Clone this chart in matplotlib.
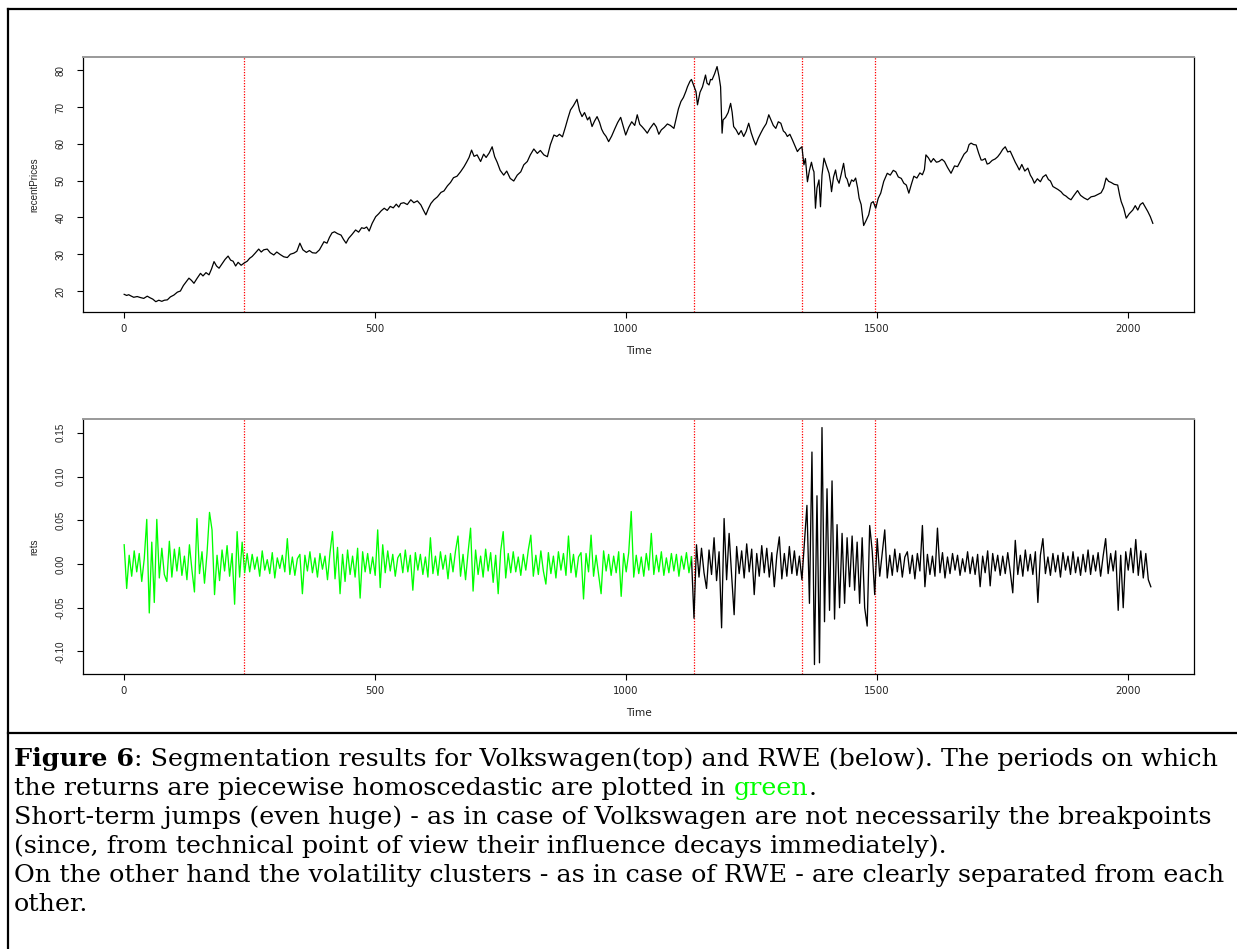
import numpy as np
import matplotlib.pyplot as plt
from matplotlib.lines import Line2D
from matplotlib.text import Annotation
from matplotlib.ticker import FormatStrFormatter

W, H = 1237, 949

# change points of the segmentation
breaks = [240, 1136, 1351, 1497]

# daily closing prices (time index, price)
price_t = [1, 6, 10, 14, 20, 27, 34, 40, 47, 52,
           58, 64, 70, 76, 81, 87, 93, 100, 107, 113,
           119, 125, 130, 135, 140, 146, 153, 158, 164, 170,
           175, 180, 185, 190, 196, 202, 208, 213, 218, 223,
           228, 234, 240, 246, 251, 256, 262, 269, 274, 279,
           286, 292, 299, 305, 312, 319, 326, 332, 339, 345,
           351, 357, 364, 370, 376, 383, 390, 399, 405, 410,
           415, 420, 426, 433, 438, 443, 448, 455, 462, 468,
           474, 479, 484, 489, 495, 502, 508, 513, 519, 525,
           531, 537, 543, 548, 552, 558, 565, 572, 578, 585,
           592, 597, 602, 607, 612, 618, 625, 632, 638, 645,
           651, 657, 664, 671, 678, 683, 688, 693, 698, 704,
           711, 717, 722, 728, 734, 739, 744, 750, 757, 763,
           770, 777, 784, 791, 797, 804, 810, 817, 824, 830,
           837, 844, 850, 857, 863, 868, 874, 880, 885, 890,
           896, 903, 908, 913, 918, 924, 928, 933, 938, 943,
           948, 952, 956, 961, 966, 972, 978, 984, 990, 995,
           1000, 1006, 1012, 1018, 1023, 1028, 1033, 1038, 1043, 1048,
           1056, 1061, 1066, 1071, 1077, 1083, 1089, 1096, 1100, 1105,
           1110, 1115, 1120, 1123, 1128, 1131, 1136, 1140, 1143, 1148,
           1153, 1159, 1162, 1166, 1169, 1172, 1177, 1182, 1186, 1189,
           1192, 1194, 1199, 1204, 1209, 1212, 1215, 1220, 1225, 1230,
           1235, 1240, 1245, 1250, 1255, 1259, 1264, 1269, 1274, 1280,
           1285, 1290, 1294, 1299, 1304, 1309, 1314, 1318, 1322, 1327,
           1332, 1337, 1342, 1346, 1351, 1355, 1358, 1362, 1366, 1370,
           1373, 1375, 1378, 1381, 1385, 1388, 1391, 1395, 1400, 1405,
           1408, 1410, 1414, 1418, 1421, 1425, 1429, 1434, 1438, 1441,
           1445, 1450, 1454, 1458, 1462, 1465, 1469, 1474, 1479, 1484,
           1489, 1493, 1498, 1503, 1508, 1514, 1521, 1527, 1533, 1538,
           1543, 1549, 1554, 1559, 1564, 1569, 1574, 1580, 1586, 1591,
           1595, 1598, 1603, 1608, 1613, 1619, 1624, 1630, 1635, 1641,
           1648, 1655, 1661, 1668, 1674, 1680, 1684, 1688, 1693, 1698,
           1703, 1708, 1711, 1716, 1720, 1724, 1730, 1736, 1741, 1746,
           1751, 1756, 1761, 1766, 1771, 1776, 1780, 1784, 1789, 1795,
           1801, 1806, 1810, 1814, 1820, 1826, 1831, 1837, 1842, 1846,
           1851, 1856, 1861, 1867, 1872, 1877, 1882, 1887, 1893, 1900,
           1906, 1913, 1920, 1927, 1934, 1940, 1947, 1952, 1957, 1962,
           1967, 1973, 1980, 1984, 1987, 1992, 1997, 2003, 2010, 2015,
           2020, 2025, 2030, 2035, 2040, 2045, 2050]
price = [19.1, 18.8, 19.0, 18.7, 18.3, 18.5, 18.2, 18.0, 18.6, 18.2,
         17.8, 17.1, 17.5, 17.2, 17.5, 17.6, 18.4, 18.9, 19.7, 20.0,
         21.5, 22.6, 23.5, 22.9, 22.1, 23.4, 24.8, 24.1, 25.0, 24.4,
         26.0, 28.0, 26.8, 26.2, 27.4, 28.6, 29.5, 28.4, 28.1, 26.8,
         27.8, 27.0, 27.6, 28.1, 28.9, 29.4, 30.3, 31.4, 30.6, 31.2,
         31.4, 30.4, 29.8, 30.6, 29.9, 29.3, 29.1, 30.0, 30.3, 30.8,
         33.0, 31.2, 30.5, 31.0, 30.4, 30.3, 31.2, 33.4, 33.0, 34.6,
         35.8, 36.1, 35.6, 35.2, 34.0, 33.0, 34.3, 35.4, 36.6, 36.0,
         37.2, 37.0, 37.4, 36.3, 38.4, 40.2, 41.0, 41.8, 42.5, 41.9,
         43.0, 42.6, 43.6, 42.8, 43.8, 44.0, 43.5, 44.8, 44.0, 44.5,
         43.4, 42.0, 40.7, 42.4, 43.8, 44.8, 45.6, 46.8, 47.2, 48.6,
         49.5, 50.8, 51.2, 52.4, 53.8, 55.0, 56.3, 58.3, 56.6, 57.0,
         55.2, 57.2, 56.3, 57.5, 59.2, 56.5, 55.0, 52.8, 51.5, 52.6,
         50.6, 49.9, 51.5, 52.4, 54.3, 55.2, 57.0, 58.6, 57.4, 58.2,
         57.0, 56.5, 59.8, 62.4, 62.0, 62.6, 61.9, 64.6, 67.0, 69.2,
         70.4, 72.1, 69.0, 67.4, 68.5, 66.5, 67.3, 64.7, 66.2, 67.4,
         65.8, 64.0, 62.9, 62.0, 60.6, 62.1, 64.0, 65.8, 67.2, 64.8,
         62.4, 64.5, 66.0, 65.0, 67.9, 65.3, 64.6, 63.8, 62.9, 64.1,
         65.6, 64.6, 62.6, 63.8, 64.5, 65.4, 65.0, 64.2, 66.5, 69.5,
         71.5, 72.6, 74.3, 75.5, 77.0, 77.5, 75.7, 74.2, 70.6, 74.0,
         75.5, 78.7, 76.5, 76.0, 77.5, 77.4, 79.0, 81.0, 78.2, 75.5,
         62.9, 66.5, 67.2, 68.5, 71.0, 68.6, 64.7, 63.8, 62.5, 63.6,
         62.0, 63.4, 65.6, 63.0, 61.0, 59.7, 61.5, 62.9, 64.2, 65.5,
         67.9, 66.3, 65.0, 64.2, 66.0, 65.6, 63.5, 63.0, 62.0, 62.6,
         61.1, 59.5, 57.9, 58.6, 59.2, 54.3, 56.0, 49.7, 52.8, 55.0,
         53.1, 52.4, 42.5, 48.0, 50.2, 42.9, 51.5, 56.1, 54.0, 52.0,
         49.5, 47.0, 51.0, 52.9, 50.5, 49.3, 51.6, 54.7, 51.0, 50.4,
         48.4, 50.2, 49.8, 50.7, 48.0, 45.2, 43.5, 37.8, 39.2, 40.7,
         43.9, 44.3, 42.5, 45.2, 46.6, 49.8, 52.0, 51.5, 52.8, 52.4,
         51.0, 50.6, 49.3, 48.8, 46.6, 49.0, 51.2, 50.7, 52.1, 51.6,
         53.0, 57.0, 56.2, 55.0, 56.0, 55.0, 55.2, 55.8, 55.2, 53.6,
         52.0, 54.0, 53.8, 55.6, 57.2, 58.0, 59.8, 60.2, 59.8, 59.7,
         57.5, 55.6, 55.6, 56.0, 54.5, 54.7, 55.5, 55.9, 56.5, 57.4,
         58.5, 59.2, 57.8, 58.0, 56.5, 55.0, 54.0, 52.9, 54.4, 52.6,
         53.4, 51.5, 50.6, 49.3, 50.5, 49.7, 51.0, 51.6, 50.3, 49.9,
         48.4, 48.0, 47.6, 47.0, 46.2, 45.8, 45.2, 44.8, 46.0, 47.3,
         46.0, 45.3, 44.8, 45.6, 45.8, 46.2, 46.7, 48.0, 50.7, 49.8,
         49.5, 49.0, 48.8, 46.0, 44.3, 42.5, 39.8, 41.0, 42.0, 43.2,
         42.0, 43.5, 44.0, 42.8, 41.6, 40.2, 38.4]

# log returns in percent, every 5th day
rets_pct = [
    2.2, -2.8, 1.0, -1.4, 1.5, -0.9, 1.2, -2.0, 0.6, 5.1,
    -5.6, 2.5, -4.4, 5.1, -1.6, 1.8, -1.2, -2.0, 2.6, -1.5,
    1.7, -0.8, 1.9, -1.3, 0.9, -1.8, 2.2, -0.7, -3.2, 5.2,
    -1.1, 1.4, -2.2, 1.2, 5.9, 3.9, -3.5, 1.0, -1.9, 1.6,
    -0.8, 2.1, -1.4, 1.2, -4.6, 3.7, -1.5, 2.5, -1.0, 1.2,
    -0.9, 1.1, -0.6, 0.8, -1.4, 1.5, -0.7, 0.5, -1.1, 1.3,
    -1.6, 0.7, -0.5, 1.0, -0.9, 2.9, -1.2, 0.8, -1.3, 0.6,
    1.1, -3.4, 1.0, -0.8, 1.4, -1.0, 0.7, -1.5, 1.2, -0.6,
    0.9, -1.8, 1.3, 3.7, -1.7, 1.9, -3.4, 1.1, -2.0, 1.6,
    -1.2, 0.9, -1.5, 1.8, -3.9, 1.4, -0.9, 1.2, -1.1, 0.8,
    -1.3, 3.9, -2.7, 2.2, -1.0, 1.5, -0.8, 1.1, -1.4, 0.7,
    1.2, -1.0, 1.6, -0.9, 1.0, -3.0, 1.3, -0.7, 1.1, -1.2,
    0.8, -1.5, 3.0, -1.1, 0.9, -1.3, 1.4, -0.6, 1.0, -1.7,
    1.2, -0.9, 1.5, 3.2, -1.4, 1.1, -1.8, 1.3, 4.1, -3.1,
    1.6, -1.2, 0.9, -1.5, 1.7, -0.8, 1.3, -2.1, 1.0, -3.4,
    1.5, 3.7, -1.6, 1.2, -1.0, 1.4, -0.9, 0.8, -1.3, 1.1,
    -0.7, 1.6, 3.3, -1.4, 1.0, -1.2, 1.5, -0.8, -2.3, 1.3,
    -1.1, 0.9, -1.6, 1.4, -0.7, 1.2, -1.3, 3.2, -1.0, 1.1,
    -1.5, 0.8, 1.3, -4.0, 1.2, -0.9, 3.3, -1.4, 1.0, -1.2,
    -3.4, 1.5, -0.8, 1.1, -1.3, 0.9, -1.0, 1.4, -3.7, 1.2,
    -0.9, 1.3, 6.0, -1.5, 1.0, -1.1, 0.8, -1.4, 1.2, -0.7,
    3.5, -1.2, 1.0, -0.9, 1.4, -1.3, 0.7, -1.0, 1.2, -0.8,
    1.1, -1.4, 0.9, -0.6, 1.3, -1.0, 0.8, -6.2, 2.2, -1.5,
    1.8, -1.0, -2.8, 1.6, -1.2, 3.0, -1.9, 1.4, -7.3, 5.2,
    -1.8, 3.5, -1.3, -5.8, 2.0, -1.1, 1.5, -1.6, 2.3, -0.9,
    1.7, -3.5, 1.2, -1.4, 2.1, -1.0, 1.8, -1.5, 1.3, -2.6,
    1.0, 3.1, -1.7, 1.2, -1.4, 2.0, -1.1, 1.5, -1.3, 0.9,
    -1.8, 2.5, 6.7, -4.5, 12.8, -11.5, 7.8, -11.3, 15.6, -6.6,
    8.6, -5.3, 9.5, -6.3, 4.5, -5.0, 3.5, -4.5, 3.0, -2.6,
    3.2, -3.0, 2.5, -4.5, 3.0, -5.0, -7.1, 4.4, 1.5, -3.5,
    2.9, -1.4, 1.3, 3.9, -1.6, 1.0, -1.3, 1.7, -0.9, 1.2,
    -1.5, 0.8, 1.4, -1.1, 1.0, -1.7, 1.2, -0.8, 4.4, -2.6,
    1.1, -1.2, 0.9, -1.4, 4.1, -1.0, 1.3, -1.6, 0.8, -1.1,
    1.2, -0.7, 1.0, -1.3, 0.6, -0.9, 1.4, -1.1, 0.8, -1.2,
    1.1, -2.6, 0.9, -1.0, 1.5, -2.5, 1.2, -0.8, 1.0, -1.3,
    0.9, -1.1, 1.3, -0.9, -3.3, 2.7, -1.2, 1.0, -1.4, 1.6,
    -0.8, 1.1, -1.2, 1.4, -4.4, 1.0, 2.9, -1.1, 0.8, -1.3,
    1.2, -0.9, 1.0, -1.5, 1.3, -0.7, 0.9, -1.2, 1.4, -1.0,
    0.8, -1.3, 1.1, -0.9, 1.6, -1.2, 1.0, -0.8, 1.3, -1.4,
    0.9, 2.9, -1.1, 1.2, -0.8, 1.5, -5.3, 1.0, -5.0, 1.4,
    -0.7, 1.8, -1.0, 2.8, -1.3, 1.5, -1.6, 1.2, -1.8, -2.6,
]
rets_t = np.arange(len(rets_pct)) * 5 + 1
rets = np.array(rets_pct) / 100

# horizontal text is set wide, rotated text narrow
wide = ['DejaVu Sans']
narrow = ['Liberation Sans', 'DejaVu Sans']
ink = '#222222'

fig = plt.figure(figsize=(W / 100, H / 100), dpi=100)


def r_axes(top, bottom):
    ax = fig.add_axes([83 / W, 1 - bottom / H, 1111 / W, (bottom - top) / H])
    ax.set_xlim(-81, 2132)
    for side in ['left', 'bottom', 'right']:
        ax.spines[side].set_linewidth(0.9)
        ax.spines[side].set_color('black')
    ax.spines['top'].set_color('#999999')
    ax.spines['top'].set_linewidth(1.4)
    ax.set_xticks([0, 500, 1000, 1500, 2000])
    ax.tick_params(direction='out', length=4.5, width=0.8, labelcolor=ink)
    ax.tick_params(axis='x', pad=4)
    ax.tick_params(axis='y', pad=8)
    ax.set_xlabel('Time', fontsize=7.6, family=wide, color=ink, labelpad=9)
    for b in breaks:
        ax.axvline(b, color='red', lw=0.9, ls=(0, (1, 1.2)))
    return ax


def r_labels(ax):
    for lab in ax.get_xticklabels():
        lab.set_fontfamily(wide)
        lab.set_fontsize(7.3)
    for lab in ax.get_yticklabels():
        lab.set_fontfamily(narrow)
        lab.set_fontsize(7.1)
        lab.set_rotation(90)
        lab.set_va('center')


# price panel
ax1 = r_axes(57, 312)
ax1.plot(price_t, price, color='black', lw=0.9)
ax1.set_ylim(14.3, 83.6)
ax1.set_yticks([20, 30, 40, 50, 60, 70, 80])
r_labels(ax1)
ax1.set_ylabel('recentPrices', fontsize=7.1, family=narrow, color=ink, labelpad=12)

# returns panel, homoscedastic part in green
ax2 = r_axes(419, 674)
calm = rets_t <= 1131
ax2.plot(rets_t[rets_t >= 1131], rets[rets_t >= 1131], color='black', lw=0.95)
ax2.plot(rets_t[calm], rets[calm], color='#00ff00', lw=0.95)
ax2.set_ylim(-0.1258, 0.1658)
ax2.set_yticks([-0.10, -0.05, 0.0, 0.05, 0.10, 0.15])
ax2.yaxis.set_major_formatter(FormatStrFormatter('%.2f'))
r_labels(ax2)
ax2.set_ylabel('rets', fontsize=7.1, family=narrow, color=ink, labelpad=12)

# frame lines around the figure and caption
for xs, ys in [([8, 8], [9, H]), ([8, W], [9, 9]), ([8, W], [733, 733])]:
    fig.add_artist(Line2D([x / W for x in xs], [1 - y / H for y in ys],
                          color='black', lw=1.6, transform=fig.transFigure))

# caption, one list of (text, weight, colour) runs per line
serif = ['DejaVu Serif']
cap_size = 18.3
lines = [
    [("Figure 6", 'bold', 'black'),
     (": Segmentation results for Volkswagen(top) and RWE (below). The periods on which",
      'normal', 'black')],
    [("the returns are piecewise homoscedastic are plotted in ", 'normal', 'black'),
     ("green", 'normal', '#00ff00'), (".", 'normal', 'black')],
    [("Short-term jumps (even huge) - as in case of Volkswagen are not necessarily the breakpoints",
      'normal', 'black')],
    [("(since, from technical point of view their influence decays immediately).",
      'normal', 'black')],
    [("On the other hand the volatility clusters - as in case of RWE - are clearly separated from each",
      'normal', 'black')],
    [("other.", 'normal', 'black')],
]
y0 = 766
for i, parts in enumerate(lines):
    y = 1 - (y0 + 29 * i) / H
    s, wt, col = parts[0]
    prev = fig.text(14 / W, y, s, fontsize=cap_size, family=serif,
                    fontweight=wt, color=col, va='baseline')
    # following runs start where the previous one ends
    for s, wt, col in parts[1:]:
        prev = fig.add_artist(Annotation(
            s, xy=(1, 0), xycoords=prev, va='bottom', ha='left',
            fontsize=cap_size, family=serif, fontweight=wt, color=col,
            annotation_clip=False))

fig.savefig('out.png', dpi=100)
